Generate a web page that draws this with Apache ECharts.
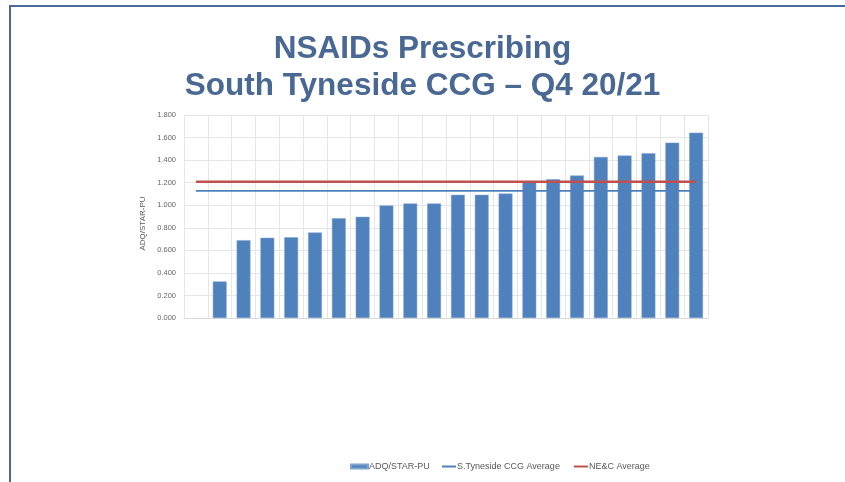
<!DOCTYPE html>
<html>
<head>
<meta charset="utf-8">
<script src="https://cdn.jsdelivr.net/npm/echarts@6/dist/echarts.min.js"></script>
<style>
html,body{margin:0;padding:0;background:#fff;}
#c{width:845px;height:482px;}
</style>
</head>
<body>
<div id="c"></div>
<script>
const categories = ["", "P1", "P2", "P3", "P4", "P5", "P6", "P7", "P8", "P9", "P10", "P11", "P12", "P13", "P14", "P15", "P16", "P17", "P18", "P19", "P20", "P21"];
const adqValues = [null, 0.324, 0.690, 0.711, 0.716, 0.758, 0.885, 0.897, 0.997, 1.015, 1.015, 1.092, 1.092, 1.103, 1.208, 1.230, 1.263, 1.428, 1.440, 1.460, 1.555, 1.643];
const ccgAverage = [1.127, 1.127, 1.127, 1.127, 1.127, 1.127, 1.127, 1.127, 1.127, 1.127, 1.127, 1.127, 1.127, 1.127, 1.127, 1.127, 1.127, 1.127, 1.127, 1.127, 1.127, 1.127];
const necAverage = [1.208, 1.208, 1.208, 1.208, 1.208, 1.208, 1.208, 1.208, 1.208, 1.208, 1.208, 1.208, 1.208, 1.208, 1.208, 1.208, 1.208, 1.208, 1.208, 1.208, 1.208, 1.208];
const yTicks = ["0.000", "0.200", "0.400", "0.600", "0.800", "1.000", "1.200", "1.400", "1.600", "1.800"];
const titleLines = ["NSAIDs Prescribing", "South Tyneside CCG \u2013 Q4 20/21"];
const seriesNames = ["ADQ/STAR-PU", "S.Tyneside CCG Average", "NE&C Average"];

const chart = echarts.init(document.getElementById('c'), null, {renderer: 'canvas'});
const titleColor = '#4a6894';
const legendText = {fontFamily: 'Liberation Sans, Arial', fontSize: 9, color: '#595959', padding: [0, 0, 0, -4]};
const option = {
  backgroundColor: '#ffffff',
  animation: false,
  title: [
    {text: titleLines[0], left: 'center', top: 33, padding: 0,
     textStyle: {fontFamily: 'Liberation Sans, Arial', fontWeight: 'bold', fontSize: 31.5, color: titleColor}},
    {text: titleLines[1], left: 'center', top: 70, padding: 0,
     textStyle: {fontFamily: 'Liberation Sans, Arial', fontWeight: 'bold', fontSize: 31.5, color: titleColor}}
  ],
  graphic: [
    {type: 'line', shape: {x1: 9, y1: 6, x2: 845, y2: 6}, style: {stroke: '#4a6a9a', lineWidth: 2}},
    {type: 'line', shape: {x1: 10, y1: 5, x2: 10, y2: 482}, style: {stroke: '#4a6a9a', lineWidth: 2}}
  ],
  grid: {left: 184, right: 137, top: 115, bottom: 164, containLabel: false},
  legend: [
    {top: 462, left: 350, padding: 0, itemWidth: 17, itemHeight: 4,
     textStyle: legendText,
     data: [{name: seriesNames[0], icon: 'rect'}]},
    {top: 462, left: 442, padding: 0, itemGap: 14, itemWidth: 14, itemHeight: 2,
     textStyle: legendText,
     data: [
       {name: seriesNames[1], icon: 'rect', itemStyle: {color: '#4f81bd'}},
       {name: seriesNames[2], icon: 'rect', itemStyle: {color: '#c0504d'}}
     ]}
  ],
  xAxis: {
    type: 'category', data: categories, boundaryGap: true,
    axisLine: {lineStyle: {color: '#d9d9d9'}},
    axisTick: {show: false, interval: 0},
    axisLabel: {show: false, interval: 0},
    splitLine: {show: true, interval: 0, lineStyle: {color: '#e6e6e6', width: 1}}
  },
  yAxis: {
    type: 'value', min: 0, max: 1.8, interval: 0.2,
    name: 'ADQ/STAR-PU', nameLocation: 'middle', nameGap: 32, nameRotate: 90,
    nameTextStyle: {fontFamily: 'Liberation Sans, Arial', fontSize: 8, color: '#595959', padding: [0, 14, 0, 0]},
    axisLine: {show: false}, axisTick: {show: false},
    axisLabel: {fontFamily: 'Liberation Sans, Arial', fontSize: 7.5, color: '#666666', margin: 8,
      formatter: function (v) { return yTicks[Math.round(v / 0.2)]; }},
    splitLine: {show: true, lineStyle: {color: '#e6e6e6', width: 1}}
  },
  series: [
    {name: seriesNames[0], type: 'bar', data: adqValues, barWidth: '58%',
     itemStyle: {color: '#4f81bd', borderColor: '#7fa3d0', borderWidth: 0.5}},
    {name: seriesNames[1], type: 'line', data: ccgAverage, symbol: 'none',
     lineStyle: {color: '#4f81bd', width: 1.8}, itemStyle: {color: '#4f81bd'}},
    {name: seriesNames[2], type: 'line', data: necAverage, symbol: 'none',
     lineStyle: {color: '#c0504d', width: 2.5}, itemStyle: {color: '#c0504d'}}
  ]
};
chart.setOption(option);
</script>
</body>
</html>
